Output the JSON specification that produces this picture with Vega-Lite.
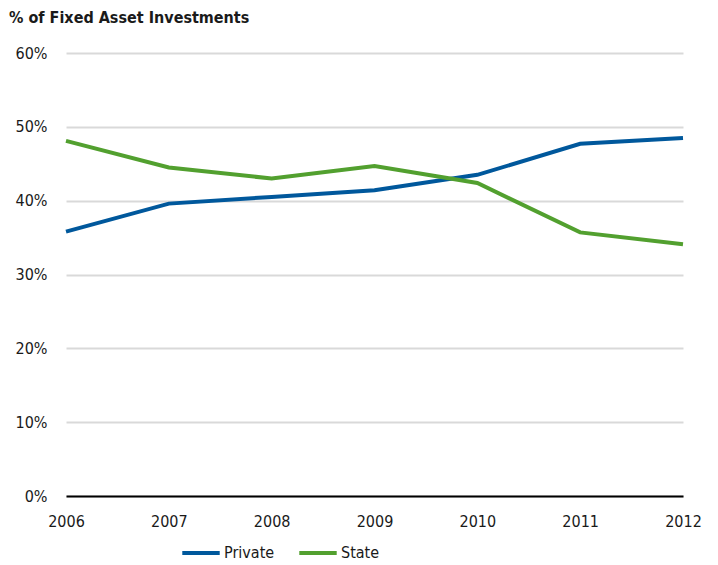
{
  "$schema": "https://vega.github.io/schema/vega-lite/v6.json",
  "width": 617,
  "height": 443,
  "autosize": "none",
  "padding": {"left": 66, "top": 53, "right": 35, "bottom": 69},
  "background": "white",
  "title": {"text": "% of Fixed Asset Investments", "anchor": "start", "frame": "group", "dx": -57, "offset": 19, "fontSize": 16, "font": "DejaVu Sans Condensed", "fontWeight": "bold", "color": "#1a1a1a"},
  "config": {
    "font": "DejaVu Sans Condensed",
    "view": {"stroke": null}
  },
  "data": {"values": [
    {"year": 2006, "series": "Private", "v": 35.8},
    {"year": 2007, "series": "Private", "v": 39.6},
    {"year": 2008, "series": "Private", "v": 40.5},
    {"year": 2009, "series": "Private", "v": 41.4},
    {"year": 2010, "series": "Private", "v": 43.5},
    {"year": 2011, "series": "Private", "v": 47.7},
    {"year": 2012, "series": "Private", "v": 48.5},
    {"year": 2006, "series": "State", "v": 48.1},
    {"year": 2007, "series": "State", "v": 44.5},
    {"year": 2008, "series": "State", "v": 43.0},
    {"year": 2009, "series": "State", "v": 44.7},
    {"year": 2010, "series": "State", "v": 42.4},
    {"year": 2011, "series": "State", "v": 35.7},
    {"year": 2012, "series": "State", "v": 34.1}
  ]},
  "mark": {"type": "line", "strokeWidth": 4},
  "encoding": {
    "x": {"field": "year", "type": "quantitative", "scale": {"domain": [2006, 2012], "nice": false, "zero": false},
      "axis": {"title": null, "values": [2006, 2007, 2008, 2009, 2010, 2011, 2012], "format": "d", "grid": false, "ticks": false, "domainColor": "#000000", "domainWidth": 2, "labelFontSize": 16, "labelColor": "#1a1a1a", "labelPadding": 17, "labelFlush": false}},
    "y": {"field": "v", "type": "quantitative", "scale": {"domain": [0, 60], "nice": false},
      "axis": {"title": null, "values": [0, 10, 20, 30, 40, 50, 60], "labelExpr": "datum.value + '%'", "domain": false, "ticks": false, "gridColor": "#d9d9d9", "gridWidth": 2, "labelFontSize": 16, "labelColor": "#1a1a1a", "labelPadding": 19}},
    "color": {"field": "series", "type": "nominal", "scale": {"domain": ["Private", "State"], "range": ["#00589c", "#52a02f"]},
      "legend": {"title": null, "orient": "none", "legendX": 114, "legendY": 479, "direction": "horizontal", "symbolType": "stroke", "symbolStrokeWidth": 4, "symbolSize": 1400, "labelFontSize": 16, "labelColor": "#1a1a1a", "columnPadding": 16, "labelOffset": 2}}
  }
}
